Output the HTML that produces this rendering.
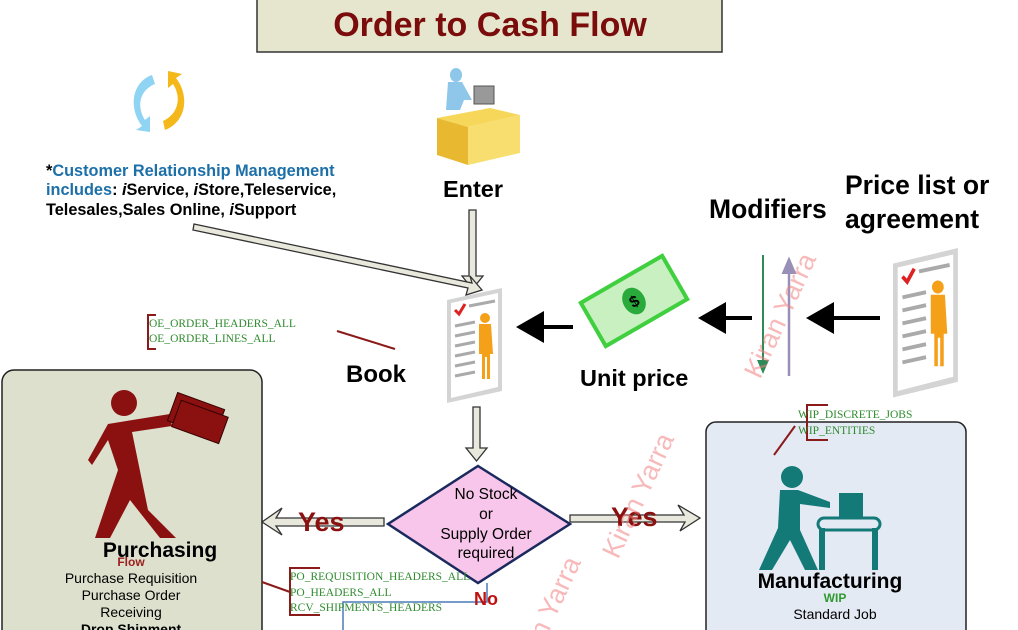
<!DOCTYPE html>
<html><head><meta charset="utf-8"><style>
html,body{margin:0;padding:0;background:#fff;width:1018px;height:630px;overflow:hidden}
svg{display:block}
text{font-family:"Liberation Sans",sans-serif}
.tb{font-family:"Liberation Serif",serif;fill:#2e8b2e;font-size:11.5px}
</style></head><body>
<svg width="1018" height="630" viewBox="0 0 1018 630" xmlns="http://www.w3.org/2000/svg">
<defs>
<marker id="ab" markerWidth="8" markerHeight="8" refX="6" refY="4" orient="auto"><path d="M0,0 L7,4 L0,8 Z" fill="#000"/></marker>
<marker id="ag" markerWidth="8" markerHeight="8" refX="6" refY="4" orient="auto"><path d="M0,1 L7,4 L0,7 Z" fill="#2e8b57"/></marker>
<marker id="ap" markerWidth="8" markerHeight="8" refX="6" refY="4" orient="auto"><path d="M0,1 L7,4 L0,7 Z" fill="#9990b8"/></marker>
<g id="doc">
<polygon points="0,12 55,0 55,103 0,115" fill="#d4d4d4"/>
<polygon points="4,15 51,5 51,99 4,110" fill="#fff"/>
<path d="M8,22 l4,4 6,-10" stroke="#d22" stroke-width="3" fill="none"/>
<g stroke="#aaa" stroke-width="3"><line x1="8" y1="38" x2="28" y2="34"/><line x1="8" y1="48" x2="28" y2="44"/><line x1="8" y1="58" x2="28" y2="54"/><line x1="8" y1="68" x2="28" y2="64"/><line x1="8" y1="78" x2="28" y2="74"/><line x1="8" y1="88" x2="28" y2="84"/><line x1="22" y1="18" x2="48" y2="13"/></g>
<circle cx="38" cy="30" r="5" fill="#f5a019"/>
<path d="M32,36 h12 l2,30 h-3 v25 h-3 v-22 h-2 v22 h-3 v-25 h-3 z" fill="#f5a019"/>
</g>
</defs>

<rect x="257" y="-2" width="465" height="54" fill="#e6e6cf" stroke="#333" stroke-width="1.5"/>
<text x="490" y="36" text-anchor="middle" font-size="34" font-weight="bold" fill="#7a0c0c">Order to Cash Flow</text>

<path d="M152,75 C132,82 128,108 142,126 L136,130 L150,132 L150,116 L145,120 C136,106 140,90 155,84 Z" fill="#8fd4f2"/>
<path d="M165,130 C186,122 190,96 176,78 L182,74 L168,71 L168,88 L173,84 C182,98 178,114 163,121 Z" fill="#f4b81a"/>

<text x="46" y="176" font-size="16.3" font-weight="bold" fill="#1d6fa8"><tspan fill="#000">*</tspan>Customer Relationship Management</text>
<text x="46" y="195" font-size="16.3" font-weight="bold" fill="#1d6fa8">includes<tspan fill="#000">: <tspan font-style="italic">i</tspan>Service, <tspan font-style="italic">i</tspan>Store,Teleservice,</tspan></text>
<text x="46" y="215" font-size="16.3" font-weight="bold">Telesales,Sales Online, <tspan font-style="italic">i</tspan>Support</text>

<ellipse cx="456" cy="75" rx="6" ry="7" fill="#8fc7ea"/>
<path d="M448,82 h14 l10,18 h-8 l-4,10 h-14 z" fill="#8fc7ea"/>
<rect x="474" y="86" width="20" height="18" fill="#999" stroke="#555"/>
<polygon points="437,118 490,108 520,115 468,127" fill="#f6d75a"/>
<polygon points="437,118 468,127 468,165 437,155" fill="#e8b930"/>
<polygon points="468,127 520,115 520,153 468,165" fill="#f7de6e"/>
<text x="473" y="197" text-anchor="middle" font-size="23.5" font-weight="bold">Enter</text>

<polygon points="469,210 476,210 476,276 483,276 472.5,289 462,276 469,276" fill="#e8e8dc" stroke="#333" stroke-width="1.3"/>
<polygon points="194,224 472,283 470,276 482,290 466,295 468,288 193,230" fill="#e8e8dc" stroke="#333" stroke-width="1.3"/>

<use href="#doc" x="447" y="288"/>
<g transform="translate(893 248) scale(1.18 1.3)"><use href="#doc"/></g>

<text x="346" y="382" font-size="24" font-weight="bold">Book</text>
<line x1="337" y1="331" x2="395" y2="349" stroke="#8b1a1a" stroke-width="2"/>
<path d="M156,315 h-8 v34 h8" fill="none" stroke="#8b1a1a" stroke-width="2"/>
<text class="tb" x="149" y="327">OE_ORDER_HEADERS_ALL</text>
<text class="tb" x="149" y="342">OE_ORDER_LINES_ALL</text>

<line x1="573" y1="327" x2="520" y2="327" stroke="#000" stroke-width="4" marker-end="url(#ab)"/>
<line x1="752" y1="318" x2="702" y2="318" stroke="#000" stroke-width="4" marker-end="url(#ab)"/>
<line x1="880" y1="318" x2="810" y2="318" stroke="#000" stroke-width="4" marker-end="url(#ab)"/>

<g transform="rotate(-30 634 301)">
<rect x="587" y="276" width="94" height="50" fill="#c8f0c0" stroke="#3fcf3f" stroke-width="4"/>
<ellipse cx="634" cy="301" rx="11" ry="14" fill="#2aaa3a"/>
<text x="634" y="307" text-anchor="middle" font-size="16" font-weight="bold" fill="#000">$</text>
</g>
<text x="580" y="386" font-size="23.5" font-weight="bold">Unit price</text>

<line x1="763" y1="255" x2="763" y2="372" stroke="#2e8b57" stroke-width="2" marker-end="url(#ag)"/>
<line x1="789" y1="376" x2="789" y2="259" stroke="#9990b8" stroke-width="2.5" marker-end="url(#ap)"/>
<text x="709" y="218" font-size="26.5" font-weight="bold">Modifiers</text>
<text x="845" y="194" font-size="26.5" font-weight="bold">Price list or</text>
<text x="845" y="228" font-size="26.5" font-weight="bold">agreement</text>

<rect x="2" y="370" width="260" height="280" rx="12" fill="#dde0cd" stroke="#222" stroke-width="1.5"/>
<g fill="#8b1010">
<circle cx="124" cy="403" r="13"/>
<polygon points="108,424 170,414 172,426 132,432 148,510 176,538 160,538 130,500 110,538 95,538 118,470 108,440 92,465 88,460"/>
<g transform="rotate(20 195 418)"><rect x="170" y="400" width="50" height="30" stroke="#300" stroke-width="1"/><rect x="176" y="406" width="50" height="28" stroke="#300" stroke-width="1"/></g>
</g>
<text x="160" y="557" text-anchor="middle" font-size="21" font-weight="bold">Purchasing</text>
<text x="131" y="566" text-anchor="middle" font-size="12" font-weight="bold" fill="#9b2020">Flow</text>
<text x="131" y="583" text-anchor="middle" font-size="14">Purchase Requisition</text>
<text x="131" y="600" text-anchor="middle" font-size="14">Purchase Order</text>
<text x="131" y="617" text-anchor="middle" font-size="14">Receiving</text>
<text x="131" y="634" text-anchor="middle" font-size="14" font-weight="bold">Drop Shipment</text>

<rect x="706" y="422" width="260" height="230" rx="10" fill="#e4eaf4" stroke="#222" stroke-width="1.5"/>
<g fill="#137a78">
<circle cx="792" cy="477" r="11"/>
<polygon points="780,490 798,490 830,502 830,508 800,504 800,530 818,570 805,570 790,540 772,570 759,570 778,528"/>
<rect x="839" y="493" width="24" height="26"/>
<rect x="818" y="518" width="62" height="12" rx="6" fill="none" stroke="#137a78" stroke-width="3"/>
<rect x="819" y="528" width="6" height="42"/><rect x="872" y="528" width="6" height="42"/>
</g>
<text x="830" y="588" text-anchor="middle" font-size="21" font-weight="bold">Manufacturing</text>
<text x="835" y="602" text-anchor="middle" font-size="12" font-weight="bold" fill="#2e9b2e">WIP</text>
<text x="835" y="619" text-anchor="middle" font-size="14">Standard Job</text>
<path d="M828,405 h-21 v35 h21" fill="none" stroke="#8b1a1a" stroke-width="2"/>
<line x1="795" y1="426" x2="774" y2="455" stroke="#8b1a1a" stroke-width="2"/>
<text class="tb" x="798" y="418">WIP_DISCRETE_JOBS</text>
<text class="tb" x="798" y="434">WIP_ENTITIES</text>

<polygon points="473,407 480,407 480,448 487,448 476.5,461 466,448 473,448" fill="#e8e8dc" stroke="#333" stroke-width="1.3"/>

<polygon points="478,466 570,524 478,583 388,524" fill="#f7c6ea" stroke="#1b2a5e" stroke-width="2.5"/>
<text x="486" y="499" text-anchor="middle" font-size="15.5">No Stock</text>
<text x="486" y="519" text-anchor="middle" font-size="15.5">or</text>
<text x="486" y="539" text-anchor="middle" font-size="15.5">Supply Order</text>
<text x="486" y="558" text-anchor="middle" font-size="15.5">required</text>

<polygon points="384,518 384,526 276,526 282,535 262,522 282,508 276,518" fill="#e8e8dc" stroke="#333" stroke-width="1.3"/>
<text x="298" y="531" font-size="27" font-weight="bold" fill="#8b1010">Yes</text>
<polygon points="570,515 684,515 678,505 700,518 680,531 685,522 570,522" fill="#e8e8dc" stroke="#333" stroke-width="1.3"/>
<text x="611" y="526" font-size="27" font-weight="bold" fill="#8b1010">Yes</text>

<polyline points="487,583 487,602 343,602 343,630" fill="none" stroke="#4a7ab8" stroke-width="1.5"/>
<text x="474" y="605" font-size="18" font-weight="bold" fill="#c01010">No</text>
<path d="M320,568 h-30 v47 h30" fill="none" stroke="#8b1a1a" stroke-width="2"/>
<line x1="262" y1="582" x2="290" y2="592" stroke="#8b1a1a" stroke-width="2"/>
<text class="tb" x="290" y="580">PO_REQUISITION_HEADERS_ALL</text>
<text class="tb" x="290" y="596">PO_HEADERS_ALL</text>
<text class="tb" x="290" y="611">RCV_SHIPMENTS_HEADERS</text>

<g font-size="27" fill="#f08080" fill-opacity="0.55">
<text transform="translate(760 380) rotate(-65)">Kiran Yarra</text>
<text transform="translate(618 560) rotate(-65)">Kiran Yarra</text>
<text transform="translate(545 640) rotate(-65)">n Yarra</text>
</g>
</svg>
</body></html>
